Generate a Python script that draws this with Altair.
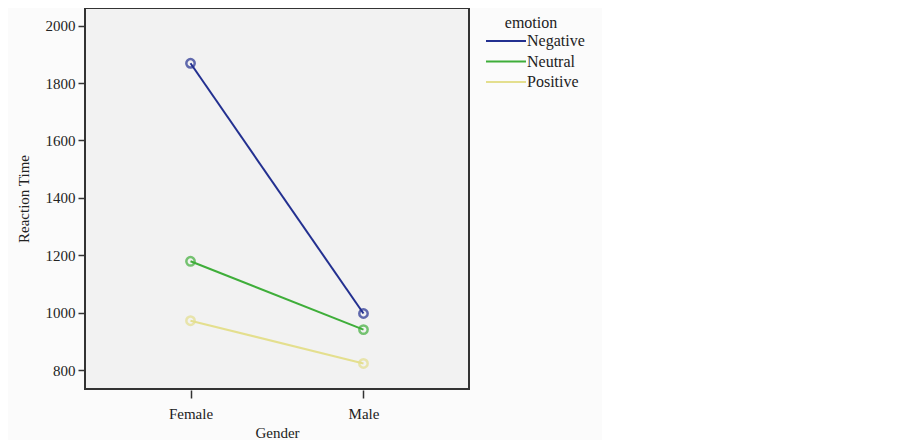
import altair as alt
import pandas as pd

genders = ["Female", "Male"]
emotions = ["Negative", "Neutral", "Positive"]
negative = [1869, 997]
neutral = [1179, 941]
positive = [972, 823]
y_ticks = [800, 1000, 1200, 1400, 1600, 1800, 2000]
colors = ["#233090", "#3fae3a", "#e4df8e"]

rows = []
for emo, vals in zip(emotions, [negative, neutral, positive]):
    for g, v in zip(genders, vals):
        rows.append({"Gender": g, "emotion": emo, "Reaction Time": v})
df = pd.DataFrame(rows)

FONT = "Liberation Serif"

x = alt.X("Gender:N", scale=alt.Scale(type="point", padding=0.61),
          axis=alt.Axis(labelAngle=0, domain=False, ticks=True, tickSize=8,
                        tickColor="#333333", tickWidth=1.5, labelPadding=8, titlePadding=4,
                        offset=1))
y = alt.Y("Reaction Time:Q", scale=alt.Scale(domain=[734, 2061.7], nice=False, zero=False),
          axis=alt.Axis(values=y_ticks, format="d", grid=False, domain=False, tickSize=7,
                        tickColor="#333333", tickWidth=1.5, labelPadding=3, titlePadding=14))
color = alt.Color("emotion:N", scale=alt.Scale(domain=emotions, range=colors),
                  legend=alt.Legend(symbolType="M0,0H8", symbolSize=100, symbolStrokeWidth=2,
                                    offset=2, padding=7, titleAnchor="middle", labelOffset=33,
                                    rowPadding=4.5, titlePadding=2))

lines = alt.Chart(df).mark_line(strokeWidth=2).encode(x=x, y=y, color=color)
points = alt.Chart(df).mark_point(shape="circle", filled=False, size=70, strokeWidth=2.5).encode(
    x=x, y=y, color=alt.Color("emotion:N", scale=alt.Scale(domain=emotions, range=colors), legend=None))

chart = (lines + points).properties(
    width=384, height=381, background="#fbfbfb",
    padding={"left": 8, "top": 0, "right": 10, "bottom": 0},
).configure_view(
    fill="#f2f2f2", stroke="#333333", strokeWidth=2
).configure_axis(
    labelFont=FONT, titleFont=FONT, labelFontSize=15, titleFontSize=15,
    labelColor="#222222", titleColor="#222222", titleFontWeight="normal"
).configure_legend(
    labelFont=FONT, titleFont=FONT, labelFontSize=16, titleFontSize=16,
    labelColor="#222222", titleColor="#222222", titleFontWeight="normal"
)

chart.save("out.html", embed_options={"renderer": "svg", "actions": False})
